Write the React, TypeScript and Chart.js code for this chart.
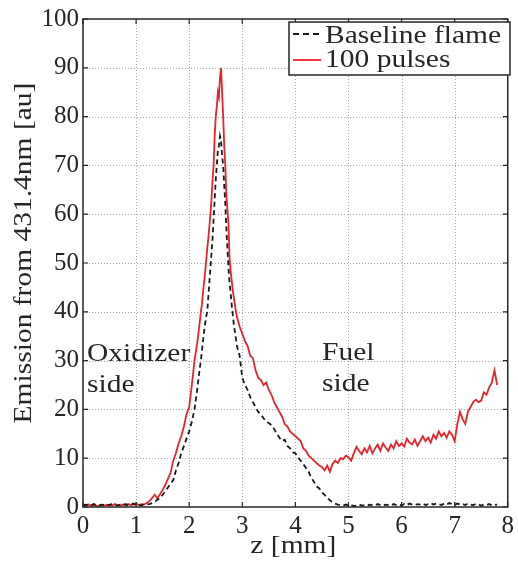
import React, { useEffect, useRef } from "react";
import { Chart, registerables } from "chart.js";

Chart.register(...registerables);

// z positions [mm]
const zValues = [
  0, 0.05, 0.1, 0.15, 0.2, 0.25, 0.3, 0.35, 0.4, 0.45, 0.5, 0.55, 0.6, 0.65, 0.7, 0.75, 0.8, 0.85, 0.9, 0.95, 1, 1.05, 1.1, 1.15, 1.2,
  1.25, 1.3, 1.35, 1.4, 1.45, 1.5, 1.55, 1.6, 1.65, 1.7, 1.75, 1.8, 1.85, 1.9, 1.95, 2, 2.05, 2.1, 2.15, 2.2,
  2.22, 2.24, 2.26, 2.28, 2.3, 2.32, 2.34, 2.36, 2.38, 2.4, 2.42, 2.44, 2.46, 2.48, 2.5, 2.52, 2.54, 2.56, 2.58, 2.6,
  2.62, 2.64, 2.66, 2.68, 2.7, 2.72, 2.74, 2.76, 2.78, 2.8, 2.82, 2.84, 2.86, 2.88, 2.9,
  2.95, 3, 3.05, 3.1, 3.15, 3.2, 3.25, 3.3, 3.35, 3.4, 3.45, 3.5, 3.55, 3.6, 3.65, 3.7, 3.75, 3.8, 3.85, 3.9,
  3.95, 4, 4.05, 4.1, 4.15, 4.2, 4.25, 4.3, 4.35, 4.4, 4.45, 4.5, 4.55, 4.6, 4.65, 4.7, 4.75, 4.8, 4.85, 4.9,
  4.95, 5, 5.05, 5.1, 5.15, 5.2, 5.25, 5.3, 5.35, 5.4, 5.45, 5.5, 5.55, 5.6, 5.65, 5.7, 5.75, 5.8, 5.85, 5.9,
  5.95, 6, 6.05, 6.1, 6.15, 6.2, 6.25, 6.3, 6.35, 6.4, 6.45, 6.5, 6.55, 6.6, 6.65, 6.7, 6.75, 6.8, 6.85, 6.9,
  6.95, 7, 7.05, 7.1, 7.15, 7.2, 7.25, 7.3, 7.35, 7.4, 7.45, 7.5, 7.55, 7.6, 7.65, 7.7, 7.75, 7.8,
];

// Baseline flame emission [au]
const baselineFlame = [
  0.3, 0.5, 0.4, 0.3, 0.6, 0.4, 0.3, 0.5, 0.4, 0.3, 0.5, 0.6, 0.4, 0.3, 0.5, 0.4, 0.6, 0.3, 0.5, 0.7, 0.4, 0.5, 0.3, 0.6, 0.5,
  0.6, 0.8, 1, 1.5, 1.8, 2.5, 3.2, 4, 4.8, 5.5, 7.5, 9, 11, 12.5, 14, 15.5, 17.5, 20, 24, 28.5,
  30, 32, 34, 36, 37.5, 39, 40, 43, 46, 49, 52, 55, 59, 63, 67, 70, 73, 74, 76, 75,
  72, 70, 66, 62, 57, 53, 49, 46, 44, 41.5, 39.5, 37.5, 36, 34.5, 33,
  31, 26.5, 25, 24, 22.5, 21.5, 20.5, 19.5, 19, 18.2, 17.5, 17.2, 16.8, 16, 15, 14.2, 13.5, 13.8, 12.5, 12,
  11.2, 11, 10.2, 9.5, 8.8, 8, 7.2, 6, 5.2, 4.2, 3.8, 3, 2.5, 1.8, 1.4, 1, 0.7, 0.5, 0.4, 0.3,
  0.5, 0.3, 0.4, 0.2, 0.3, 0.5, 0.3, 0.4, 0.3, 0.5, 0.4, 0.3, 0.6, 0.4, 0.3, 0.5, 0.4, 0.3, 0.6, 0.4,
  0.5, 0.3, 0.6, 0.4, 0.7, 0.5, 0.4, 0.6, 0.5, 0.7, 0.4, 0.6, 0.8, 0.5, 0.7, 0.6, 0.4, 0.7, 0.5, 0.8,
  0.6, 0.4, 0.7, 0.5, 0.6, 0.4, 0.7, 0.5, 0.4, 0.6, 0.5, 0.3, 0.5, 0.4, 0.6, 0.3, 0.4, 0.5,
];

// 100 pulses emission [au]
const pulses100 = [
  0.4, 0.3, 0.5, 0.3, 0.4, 0.3, 0.2, 0.4, 0.3, 0.5, 0.4, 0.3, 0.6, 0.4, 0.3, 0.5, 0.3, 0.6, 0.4, 0.5, 0.7, 0.4, 0.6, 0.5, 0.8,
  1.2, 1.8, 2.5, 1.8, 2.6, 3.5, 4.5, 5.8, 7, 9.5, 11, 13, 14.5, 16.5, 19, 20.5, 25, 30, 33.5, 38,
  40, 41.5, 44, 46, 48, 50.5, 53, 55, 57.5, 60, 63, 67, 70, 76, 80, 82, 85, 84, 88, 90,
  85, 80, 74, 70, 64, 61, 58, 51, 48.5, 46.5, 44.5, 43, 41.5, 40, 39,
  37, 35.5, 34, 33, 31, 30.5, 28, 26.5, 26, 25, 25.5, 24, 23, 21.5, 20.5, 19.5, 18.5, 17, 16.5, 15.5,
  15, 14.5, 14, 13.5, 12, 11.5, 10.5, 10, 9.5, 9, 8.5, 8.2, 7.5, 8.5, 7.2, 8.8, 9.5, 9, 10, 9.8,
  10.5, 10.2, 9.5, 11, 12.3, 11.5, 10.8, 12, 11.2, 12.5, 11, 12, 12.8, 11.5, 13, 12.2, 11.5, 12.8, 12, 13.5,
  12.5, 13, 12.4, 14, 13.2, 12.8, 13.8, 12.5, 13.5, 14.5, 13.5, 14.2, 13.2, 14.8, 14, 15.5, 14.5, 15.2, 14.2, 15.5,
  14.8, 13.5, 17, 19.5, 18, 17, 19.5, 20.5, 21.5, 22, 21.5, 21.8, 23.5, 23, 24.5, 25.5, 28, 25,
];

const xTickValues = [0, 1, 2, 3, 4, 5, 6, 7, 8];
const yTickValues = [0, 10, 20, 30, 40, 50, 60, 70, 80, 90, 100];

const seriesLabels = ["Baseline flame", "100 pulses"];
const xTitle = "z [mm]";
const yTitle = "Emission from 431.4nm [au]";
const annotations = [
  { lines: ["Oxidizer", "side"], x: 87, y: 361 },
  { lines: ["Fuel", "side"], x: 322, y: 360 },
];

const FONT = "'Liberation Serif', 'DejaVu Serif', serif";
const TEXT_COLOR = "#262626";
const RED = "#e8242b";
const BLACK = "#1a1a1a";
const SX = 1.18;

function drawScaledText(ctx: CanvasRenderingContext2D, text: string, x: number, y: number, align: CanvasTextAlign) {
  ctx.save();
  ctx.translate(x, y);
  ctx.scale(SX, 1);
  ctx.textAlign = align;
  ctx.textBaseline = "alphabetic";
  ctx.fillText(text, 0, 0);
  ctx.restore();
}

const overlayPlugin = {
  id: "overlay",
  beforeDatasetsDraw(chart: any) {
    const { ctx, chartArea, scales } = chart;
    const { left, right, top, bottom } = chartArea;
    ctx.save();
    ctx.strokeStyle = "#a8a8a8";
    ctx.lineWidth = 1;
    ctx.setLineDash([1, 2]);
    for (const t of xTickValues) {
      if (t === xTickValues[0] || t === xTickValues[xTickValues.length - 1]) continue;
      const px = Math.round(scales.x.getPixelForValue(t)) + 0.5;
      ctx.beginPath();
      ctx.moveTo(px, top);
      ctx.lineTo(px, bottom);
      ctx.stroke();
    }
    for (const t of yTickValues) {
      if (t === yTickValues[0] || t === yTickValues[yTickValues.length - 1]) continue;
      const py = Math.round(scales.y.getPixelForValue(t)) + 0.5;
      ctx.beginPath();
      ctx.moveTo(left, py);
      ctx.lineTo(right, py);
      ctx.stroke();
    }
    ctx.restore();
  },
  afterDatasetsDraw(chart: any) {
    const { ctx, chartArea, scales } = chart;
    const { left, right, top, bottom } = chartArea;
    ctx.save();
    // box
    ctx.strokeStyle = TEXT_COLOR;
    ctx.lineWidth = 1.5;
    ctx.setLineDash([]);
    ctx.strokeRect(left, top, right - left, bottom - top);
    // inside ticks
    ctx.lineWidth = 1.2;
    const tl = 5;
    for (const t of xTickValues) {
      const px = scales.x.getPixelForValue(t);
      ctx.beginPath();
      ctx.moveTo(px, bottom);
      ctx.lineTo(px, bottom - tl);
      ctx.moveTo(px, top);
      ctx.lineTo(px, top + tl);
      ctx.stroke();
    }
    for (const t of yTickValues) {
      const py = scales.y.getPixelForValue(t);
      ctx.beginPath();
      ctx.moveTo(left, py);
      ctx.lineTo(left + tl, py);
      ctx.moveTo(right, py);
      ctx.lineTo(right - tl, py);
      ctx.stroke();
    }

    // legend
    const lx = 289, ly = 22, lw = 221, lh = 53;
    ctx.fillStyle = "#ffffff";
    ctx.fillRect(lx, ly, lw, lh);
    ctx.strokeStyle = TEXT_COLOR;
    ctx.lineWidth = 1.5;
    ctx.strokeRect(lx, ly, lw, lh);
    ctx.lineWidth = 1.8;
    ctx.strokeStyle = BLACK;
    ctx.setLineDash([6, 4]);
    ctx.beginPath();
    ctx.moveTo(293, 34);
    ctx.lineTo(321, 34);
    ctx.stroke();
    ctx.setLineDash([]);
    ctx.strokeStyle = RED;
    ctx.beginPath();
    ctx.moveTo(293, 60);
    ctx.lineTo(321, 60);
    ctx.stroke();

    ctx.fillStyle = TEXT_COLOR;
    ctx.font = `25px ${FONT}`;
    drawScaledText(ctx, seriesLabels[0], 325, 43, "left");
    drawScaledText(ctx, seriesLabels[1], 325, 67, "left");

    // annotations
    for (const a of annotations) {
      a.lines.forEach((ln, i) => drawScaledText(ctx, ln, a.x, a.y + i * 31, "left"));
    }

    // axis titles
    drawScaledText(ctx, xTitle, (left + right) / 2 - 2, 553, "center");
    ctx.save();
    ctx.translate(31, 253);
    ctx.rotate(-Math.PI / 2);
    drawScaledText(ctx, yTitle, 0, 0, "center");
    ctx.restore();

    ctx.restore();
  },
};

export default function App() {
  const canvasRef = useRef<HTMLCanvasElement | null>(null);

  useEffect(() => {
    document.body.style.margin = "0";
    const canvas = canvasRef.current;
    if (!canvas) return;
    const tickFont = { family: FONT, size: 25 };
    const chart = new Chart(canvas, {
      type: "line",
      data: {
        datasets: [
          {
            label: seriesLabels[0],
            data: zValues.map((z, i) => ({ x: z, y: baselineFlame[i] })),
            borderColor: BLACK,
            borderWidth: 1.8,
            borderDash: [5, 3.5],
            pointRadius: 0,
            tension: 0,
            fill: false,
          },
          {
            label: seriesLabels[1],
            data: zValues.map((z, i) => ({ x: z, y: pulses100[i] })),
            borderColor: RED,
            borderWidth: 1.8,
            pointRadius: 0,
            tension: 0,
            fill: false,
          },
        ],
      },
      options: {
        animation: false,
        responsive: false,
        devicePixelRatio: 1,
        layout: { padding: { top: 16, right: 5, left: 0, bottom: 0 } },
        plugins: { legend: { display: false }, tooltip: { enabled: false } },
        scales: {
          x: {
            type: "linear",
            min: 0,
            max: 8,
            afterBuildTicks: (scale: any) => {
              scale.ticks = xTickValues.map((v) => ({ value: v }));
            },
            ticks: { font: tickFont, color: TEXT_COLOR, padding: 4, maxRotation: 0, autoSkip: false },
            grid: { display: false, drawTicks: false },
            border: { display: false },
            afterFit: (scale: any) => {
              scale.height = 58;
            },
          },
          y: {
            type: "linear",
            min: 0,
            max: 100,
            afterBuildTicks: (scale: any) => {
              scale.ticks = yTickValues.map((v) => ({ value: v }));
            },
            ticks: { font: tickFont, color: TEXT_COLOR, padding: 4, autoSkip: false },
            grid: { display: false, drawTicks: false },
            border: { display: false },
            afterFit: (scale: any) => {
              scale.width = 83;
            },
          },
        },
      },
      plugins: [overlayPlugin],
    } as any);
    return () => chart.destroy();
  }, []);

  return (
    <div style={{ position: "absolute", left: 0, top: 0, width: 518, height: 565 }}>
      <canvas ref={canvasRef} width={518} height={565} style={{ width: 518, height: 565, display: "block" }} />
    </div>
  );
}
